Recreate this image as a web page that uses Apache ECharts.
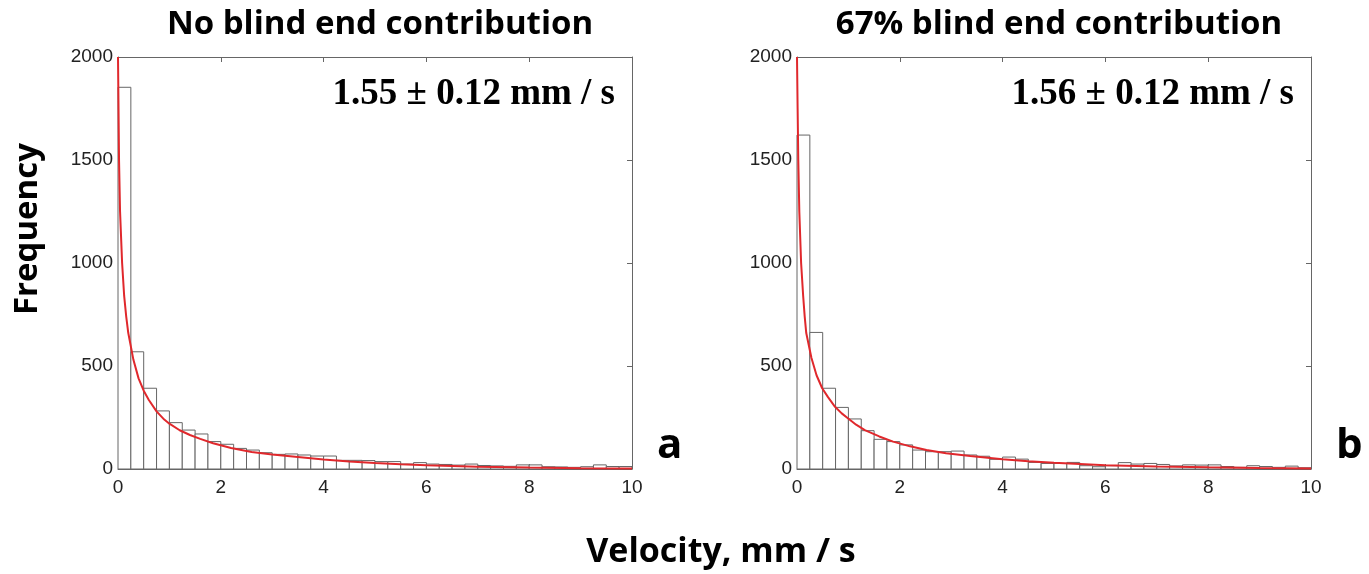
<!DOCTYPE html>
<html>
<head>
<meta charset="utf-8">
<script src="https://cdn.jsdelivr.net/npm/echarts@6/dist/echarts.min.js"></script>
<style>
  html, body { margin: 0; padding: 0; background: #fff; }
  #chart { width: 1369px; height: 574px; }
</style>
</head>
<body>
<div id="chart"></div>
<script>
// histogram bin edges (mm/s)
const binEdges = [0, 0.25, 0.5, 0.75, 1, 1.25, 1.5, 1.75, 2, 2.25, 2.5, 2.75, 3, 3.25, 3.5, 3.75, 4, 4.25, 4.5, 4.75,
  5, 5.25, 5.5, 5.75, 6, 6.25, 6.5, 6.75, 7, 7.25, 7.5, 7.75, 8, 8.25, 8.5, 8.75, 9, 9.25, 9.5, 9.75, 10];

// counts per bin, panel a (no blind end)
const countsA = [1853, 569, 392, 282, 225, 189, 170, 133, 120, 100, 92, 79, 71, 73, 68, 63, 63, 42, 42, 41,
  36, 36, 24, 31, 24, 22, 19, 24, 17, 15, 13, 20, 20, 11, 10, 8, 11, 20, 12, 12];

// counts per bin, panel b (67% blind end)
const countsB = [1621, 663, 392, 299, 243, 186, 144, 133, 117, 92, 84, 84, 87, 68, 62, 47, 58, 48, 32, 27,
  27, 32, 16, 11, 16, 31, 24, 27, 22, 15, 20, 19, 20, 12, 8, 16, 12, 8, 14, 6];

// fitted curves: [velocity, frequency]
const fitA = [[0, 2000], [0.01, 1750], [0.02, 1500], [0.04, 1250], [0.08, 1000], [0.12, 840], [0.16, 740],
  [0.2, 660], [0.3, 530], [0.4, 440], [0.5, 380], [0.6, 335], [0.75, 280], [0.9, 240], [1, 220], [1.2, 188],
  [1.4, 165], [1.6, 146], [1.85, 125], [2.2, 102], [2.6, 83], [3, 70], [3.5, 58], [4, 46], [4.5, 37], [5, 29],
  [5.5, 23], [6, 18], [7, 11], [8, 7], [9, 4], [10, 2]];
const fitB = [[0, 2000], [0.012, 1750], [0.025, 1500], [0.045, 1250], [0.08, 1000], [0.12, 840], [0.15, 740],
  [0.18, 660], [0.28, 540], [0.38, 455], [0.49, 392], [0.6, 350], [0.74, 302], [0.87, 270], [0.99, 246],
  [1.15, 215], [1.32, 189], [1.6, 158], [1.87, 133], [2.2, 110], [2.52, 92], [2.9, 77], [3.37, 63], [4, 47],
  [4.5, 38], [5, 30], [5.5, 24], [6, 18], [7, 12], [8, 8], [9, 5], [10, 3]];

const titles = ['No blind end contribution', '67% blind end contribution'];
const speeds = ['1.55 \u00b1 0.12 mm / s', '1.56 \u00b1 0.12 mm / s'];
const panelTags = ['a', 'b'];
const xTicks = [0, 2, 4, 6, 8, 10];
const yTicks = [0, 500, 1000, 1500, 2000];

const chart = echarts.init(document.getElementById('chart'));

const frameColor = '#666';
const gridLefts = [118, 797];
const gridW = 514;

const bins = counts => counts.map((c, i) => [binEdges[i], binEdges[i + 1], c]);

const renderBar = (params, api) => {
  const p0 = api.coord([api.value(0), api.value(2)]);
  const p1 = api.coord([api.value(1), 0]);
  return {
    type: 'rect',
    shape: { x: p0[0], y: p0[1], width: p1[0] - p0[0], height: p1[1] - p0[1] },
    style: { fill: '#fff', stroke: '#666', lineWidth: 1 }
  };
};

const tickFont = { color: '#222', fontSize: 19, fontFamily: 'Liberation Sans', formatter: v => String(v) };

const grids = [], xAxes = [], yAxes = [], series = [];
[countsA, countsB].forEach((counts, k) => {
  grids.push({ left: gridLefts[k], top: 57, width: gridW, height: 412 });
  const ax = {
    type: 'value', min: xTicks[0], max: xTicks[xTicks.length - 1], interval: 2, gridIndex: k,
    axisLine: { show: true, onZero: false, lineStyle: { color: frameColor, width: 1 } },
    axisTick: { show: true, inside: true, length: 5, lineStyle: { color: frameColor } },
    splitLine: { show: false }
  };
  xAxes.push(Object.assign({}, ax, { position: 'bottom', axisLabel: Object.assign({ margin: 9 }, tickFont) }));
  xAxes.push(Object.assign({}, ax, { position: 'top', axisLabel: { show: false } }));
  const ay = {
    type: 'value', min: yTicks[0], max: yTicks[yTicks.length - 1], interval: 500, gridIndex: k,
    axisLine: { show: true, onZero: false, lineStyle: { color: frameColor, width: 1 } },
    axisTick: { show: true, inside: true, length: 5, lineStyle: { color: frameColor } },
    splitLine: { show: false }
  };
  yAxes.push(Object.assign({}, ay, { position: 'left', axisLabel: Object.assign({ margin: 5 }, tickFont) }));
  yAxes.push(Object.assign({}, ay, { position: 'right', axisLabel: { show: false } }));

  series.push({
    type: 'custom', xAxisIndex: 2 * k, yAxisIndex: 2 * k,
    renderItem: renderBar, encode: { x: [0, 1], y: 2 },
    data: bins(counts), z: 2
  });
  series.push({
    type: 'line', xAxisIndex: 2 * k, yAxisIndex: 2 * k,
    data: k === 0 ? fitA : fitB,
    smooth: false, showSymbol: false,
    lineStyle: { color: '#e0282c', width: 2 }, z: 3, silent: true
  });
});

const bold = { fontFamily: 'Open Sans', fontWeight: 'bold', color: '#000' };
const titleList = [];
titles.forEach((t, k) => {
  titleList.push({ text: t, left: gridLefts[k] + gridW / 2, top: 3, textAlign: 'center',
    textStyle: Object.assign({ fontSize: 33 }, bold) });
  titleList.push({ text: speeds[k], right: 1369 - (gridLefts[k] + gridW - 12), top: 71,
    textStyle: { fontFamily: 'Liberation Serif', fontWeight: 'bold', fontSize: 37, color: '#000' } });
  titleList.push({ text: panelTags[k], left: gridLefts[k] + gridW + 20, top: 420,
    textStyle: Object.assign({ fontSize: 42 }, bold) });
});
titleList.push({ text: 'Velocity, mm / s', left: 716, top: 530, textAlign: 'center',
  textStyle: Object.assign({ fontSize: 34 }, bold) });

chart.setOption({
  animation: false,
  backgroundColor: '#fff',
  title: titleList,
  graphic: [{
    type: 'text', x: 11, y: 229, rotation: Math.PI / 2,
    style: { text: 'Frequency', font: 'bold 33px "Open Sans"', fill: '#000',
      textAlign: 'center', textVerticalAlign: 'top' }
  }],
  grid: grids,
  xAxis: xAxes,
  yAxis: yAxes,
  series: series
});
</script>
</body>
</html>
